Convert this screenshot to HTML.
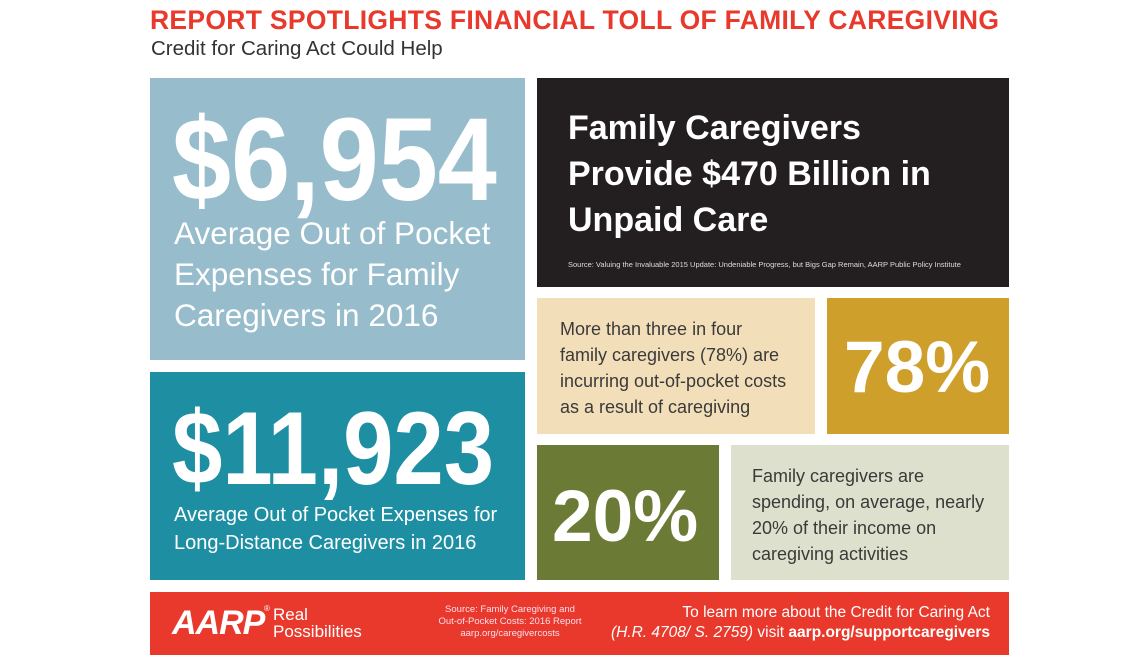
<!DOCTYPE html>
<html><head><meta charset="utf-8"><style>
*{margin:0;padding:0;box-sizing:border-box}
body{width:1140px;height:655px;background:#fff;position:relative;overflow:hidden;font-family:"Liberation Sans",sans-serif}
.a{position:absolute}
.b{position:absolute;overflow:hidden}
.big{position:absolute;font-weight:bold;color:#fff;white-space:nowrap;transform-origin:0 0}
</style></head><body>
<div class="a" style="left:150px;top:5px;font-size:26.5px;font-weight:bold;color:#e8392c;white-space:nowrap;letter-spacing:0.3px">REPORT SPOTLIGHTS FINANCIAL TOLL OF FAMILY CAREGIVING</div>
<div class="a" style="left:151px;top:37px;font-size:20.5px;color:#333;white-space:nowrap">Credit for Caring Act Could Help</div>

<div class="b" style="left:150px;top:78px;width:375px;height:282px;background:#97bccb">
  <div class="big" style="left:22px;top:14px;font-size:118px;transform:scaleX(0.9)">$6,954</div>
  <div class="a" style="left:24px;top:135px;font-size:31.5px;line-height:41px;color:#fff;white-space:nowrap">Average Out of Pocket<br>Expenses for Family<br>Caregivers in 2016</div>
</div>
<div class="b" style="left:150px;top:372px;width:375px;height:208px;background:#1e8fa3">
  <div class="big" style="left:22px;top:18px;font-size:104px;transform:scaleX(0.87)">$11,923</div>
  <div class="a" style="left:24px;top:129px;font-size:20px;line-height:28px;color:#fff;white-space:nowrap">Average Out of Pocket Expenses for<br>Long-Distance Caregivers in 2016</div>
</div>
<div class="b" style="left:537px;top:78px;width:472px;height:209px;background:#231f20">
  <div class="a" style="left:31px;top:27px;font-size:34px;line-height:46px;font-weight:bold;color:#fff;white-space:nowrap">Family Caregivers<br>Provide $470 Billion in<br>Unpaid Care</div>
  <div class="a" style="left:31px;top:182px;font-size:7.5px;color:#ddd;white-space:nowrap">Source: Valuing the Invaluable 2015 Update: Undeniable Progress, but Bigs Gap Remain, AARP Public Policy Institute</div>
</div>
<div class="b" style="left:537px;top:298px;width:278px;height:136px;background:#f2dfba">
  <div class="a" style="left:23px;top:18px;font-size:18px;line-height:26px;color:#3a3a3a;white-space:nowrap">More than three in four<br>family caregivers (78%) are<br>incurring out-of-pocket costs<br>as a result of caregiving</div>
</div>
<div class="b" style="left:827px;top:298px;width:182px;height:136px;background:#cf9f2c">
  <div class="big" style="left:17px;top:28px;font-size:73px">78%</div>
</div>
<div class="b" style="left:537px;top:445px;width:182px;height:135px;background:#6b7a35">
  <div class="big" style="left:15px;top:30px;font-size:73px">20%</div>
</div>
<div class="b" style="left:731px;top:445px;width:278px;height:135px;background:#dde0cd">
  <div class="a" style="left:21px;top:18px;font-size:18px;line-height:26px;color:#3a3a3a;white-space:nowrap">Family caregivers are<br>spending, on average, nearly<br>20% of their income on<br>caregiving activities</div>
</div>
<div class="b" style="left:150px;top:592px;width:859px;height:63px;background:#e8392c">
  <div class="a" style="left:22px;top:12px;font-size:34px;font-weight:bold;font-style:italic;color:#fff;letter-spacing:-1px">AARP</div>
  <div class="a" style="left:114px;top:12px;font-size:8px;color:#fff">®</div>
  <div class="a" style="left:123px;top:14px;font-size:17px;line-height:17px;color:#fff">Real<br>Possibilities</div>
  <div class="a" style="left:260px;top:12px;width:200px;text-align:center;font-size:9.5px;line-height:12px;color:#fde">Source: Family Caregiving and<br>Out-of-Pocket Costs: 2016 Report<br>aarp.org/caregivercosts</div>
  <div class="a" style="right:19px;top:11px;text-align:right;font-size:15.5px;line-height:20px;color:#fff;white-space:nowrap">To learn more about the Credit for Caring Act<br><i>(H.R. 4708/ S. 2759)</i> visit <b>aarp.org/supportcaregivers</b></div>
</div>
</body></html>
